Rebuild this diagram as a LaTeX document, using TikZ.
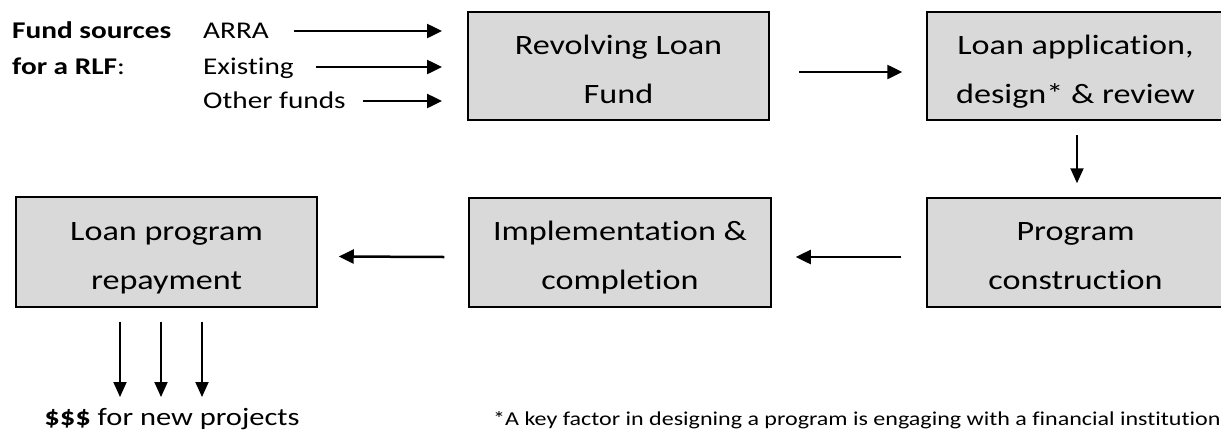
\documentclass[tikz,border=0pt]{standalone}
\usepackage{fontspec}
\setmainfont[FakeStretch=1.22, Ligatures=NoCommon]{Carlito}
\usetikzlibrary{arrows.meta,calc}
\definecolor{boxgray}{HTML}{D9D9D9}
\newcommand{\bxs}{\rule[-6pt]{0pt}{37pt}}
\begin{document}
\begin{tikzpicture}[x=1pt,y=-1pt,
  box/.style={draw=black, line width=1.5pt, fill=boxgray, minimum width=301pt,
    minimum height=108pt, inner sep=0pt, align=center,
    font=\fontsize{28}{49}\selectfont},
  arr/.style={-{Triangle[length=15pt,width=14pt]}, line width=2.5pt},
  thinarr/.style={-{Triangle[length=15pt,width=13pt]}, line width=1.9pt},
  small/.style={font=\fontsize{24}{35}\selectfont, inner sep=0pt, anchor=base west},
  note/.style={font=\fontsize{19.7}{24}\selectfont, inner sep=0pt, anchor=base west},
]
\useasboundingbox (0,0) rectangle (1221,437);

% boxes
\node[box] (rlf) at (618.5,66) {\bxs Revolving Loan\\\bxs Fund};
\node[box, minimum width=297pt] (app) at (1075.5,66) {\bxs Loan application,\\\bxs design* \& review};
\node[box, minimum width=297pt, minimum height=109pt] (con) at (1075.5,252.5) {\bxs Program\\\bxs construction};
\node[box, minimum width=302pt, minimum height=109pt] (imp) at (620,252.5) {\bxs Implementation \&\\\bxs completion};
\node[box, minimum height=110pt] (rep) at (166.5,252) {\bxs Loan program\\\bxs repayment};

% fund sources
\node[small] (fs1) at (12,38) {\textbf{Fund sources}};
\node[small] (fs2) at (12,74) {\textbf{for a RLF}:};
\node[small] (src1) at (203,38) {ARRA};
\node[small] (src2) at (203,74) {Existing};
\node[small] (src3) at (203,108) {Other funds};
\coordinate (tip1) at (442,31);
\coordinate (tip2) at (442,67);
\coordinate (tip3) at (442,101);
\draw[arr] ($(src1.base east |- tip1)+(25,0)$) -- (tip1);
\draw[arr] ($(src2.base east |- tip2)+(22,0)$) -- (tip2);
\draw[arr] ($(src3.base east |- tip3)+(17,0)$) -- (tip3);

% flow arrows
\draw[arr] ($(rlf.east)+(29,6)$) -- ($(app.west)+(-24,6)$);
\draw[thinarr] ($(app.south)+(1.5,14)$) -- ($(con.north)+(1.5,-14)$);
\draw[arr] ($(con.west)+(-25,4.5)$) -- ($(imp.east)+(24,4.5)$);
\draw[arr] ($(imp.west)+(-24,4.5)$) -- ($(rep.east)+(21,4.5)$);

% outputs
\node[small, anchor=base, font=\fontsize{25}{35}\selectfont] (money) at (172,425) {\textbf{\$\$\$} for new projects};
\coordinate (d1) at (120,397);
\coordinate (d2) at (161,397);
\coordinate (d3) at (202,397);
\draw[thinarr] ($(rep.south -| d1)+(0,14)$) -- (d1);
\draw[thinarr] ($(rep.south -| d2)+(0,14)$) -- (d2);
\draw[thinarr] ($(rep.south -| d3)+(0,14)$) -- (d3);

\node[note] (foot) at (493,425) {*A key factor in designing a program is engaging with a financial institution};
\end{tikzpicture}
\end{document}
